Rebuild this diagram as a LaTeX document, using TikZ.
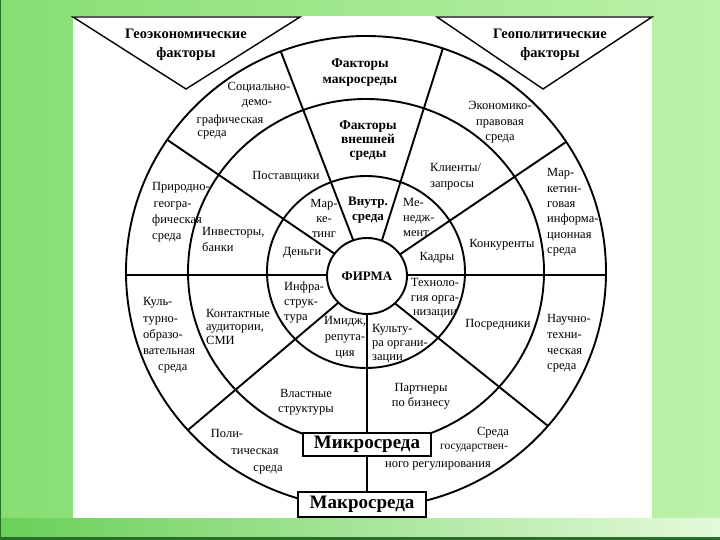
\documentclass[tikz,border=0pt]{standalone}
\usepackage{fontspec}
\setmainfont{Liberation Serif}
\usetikzlibrary{calc,shapes.geometric}
\definecolor{bgL}{RGB}{135,222,115}
\definecolor{bgR}{RGB}{188,242,170}
\definecolor{bandL}{RGB}{105,208,88}
\definecolor{bandR}{RGB}{228,250,218}
\definecolor{edge}{RGB}{40,110,40}
\begin{document}
\begin{tikzpicture}[x=1pt,y=-1pt,
  ring/.style={line width=1.9pt},
  spoke/.style={line width=1.9pt},
  tri/.style={line width=1.4pt},
  lbl/.style={inner sep=0pt,font=\fontsize{12.5}{15.5}\selectfont,align=center},
  lbll/.style={lbl,align=left,anchor=west},
  blbl/.style={inner sep=0pt,font=\bfseries\fontsize{13.5}{15}\selectfont,align=center},
  ttl/.style={inner sep=0pt,font=\bfseries\fontsize{14.5}{18.5}\selectfont,align=center},
  envbox/.style={draw,line width=1.9pt,fill=white,inner sep=0pt,font=\bfseries\fontsize{19}{22}\selectfont},
]
\useasboundingbox (0,0) rectangle (720,540);
% background frame
\shade[left color=bgL,right color=bgR] (0,0) rectangle (720,540);
\shade[left color=bandL,right color=bandR] (0,518) rectangle (720,537);
\fill[edge] (0,537) rectangle (720,540);
\fill[edge] (0,0) rectangle (1,540);
\fill[white] (73,16) rectangle (652,518);

% spoke end points
\coordinate (s1i) at (352,237); \coordinate (s1o) at (281,52);
\coordinate (s2i) at (383,237); \coordinate (s2o) at (443,48);
\coordinate (s3i) at (332,252); \coordinate (s3o) at (169,141);
\coordinate (s4i) at (402,253); \coordinate (s4o) at (566,142);
\coordinate (s5i) at (338,303); \coordinate (s5o) at (188,430);
\coordinate (s6i) at (397,305); \coordinate (s6o) at (548,426);
\coordinate (hli) at (327,275); \coordinate (hlo) at (126,275);
\coordinate (hri) at (407,275); \coordinate (hro) at (606,275);
\coordinate (vi) at (367,314);  \coordinate (vo) at (367,508);

\begin{scope}
  \clip (366,272) ellipse [x radius=240pt,y radius=236pt];
  \foreach \s in {s1,s2,s3,s4,s5,s6,hl,hr,v}{
    \draw[spoke] ($(\s o)!1.15!(\s i)$) -- ($(\s i)!1.06!(\s o)$);
  }
\end{scope}

% rings
\draw[ring] (366,272) ellipse [x radius=240pt,y radius=236pt];
\draw[ring] (366,272) ellipse [x radius=178pt,y radius=173pt];
\draw[ring] (366,272) ellipse [x radius=99pt,y radius=96pt];
\node[draw,ring,fill=white,ellipse,inner sep=0pt,minimum width=80pt,minimum height=76pt,
      font=\bfseries\fontsize{13}{15}\selectfont] (firm) at (367,276) {ФИРМА};

% triangles
\draw[tri] (73,17) -- (300,17) -- (186,89) -- cycle;
\draw[tri] (437,17) -- (652,17) -- (543,89) -- cycle;
\node[ttl] (geoec) at (186,45) {Геоэкономические\\факторы};
\node[ttl] (geopol) at (550,45) {Геополитические\\факторы};

% bold sector titles
\node[blbl,font=\bfseries\fontsize{13.5}{16}\selectfont] (fmacro) at (360,73) {Факторы\\макросреды};
\node[blbl,font=\bfseries\fontsize{13.5}{14}\selectfont] (fext) at (368,141) {Факторы\\внешней\\среды};
\node[blbl,font=\bfseries\fontsize{13}{15}\selectfont] (fint) at (368,210) {Внутр.\\среда};

% outer ring texts
\node[lbl] (soc1) at (259,88) {Социально-};
\node[lbl] (soc2) at (257,104) {демо-};
\node[lbl] (soc3) at (230,120) {графическая};
\node[lbl] (soc4) at (212,135) {среда};
\node[lbl] (econ) at (500,122.5) {Экономико-\\правовая\\среда};
\node[lbll,font=\fontsize{12.5}{16.3}\selectfont] (nat) at (152,212.5) {Природно-\\\hspace*{1.5pt}геогра-\\фическая\\среда};
\node[lbll,font=\fontsize{12.5}{15.4}\selectfont] (mkt) at (547,212.5) {Мар-\\кетин-\\говая\\информа-\\ционная\\среда};
\node[lbll,font=\fontsize{12.5}{16.2}\selectfont] (cult) at (143,335.5) {Куль-\\турно-\\образо-\\вательная\\\hspace*{15pt}среда};
\node[lbll,font=\fontsize{12.5}{15.7}\selectfont] (sci) at (547,343.5) {Научно-\\техни-\\ческая\\среда};
\node[lbl] (pol1) at (227,433) {Поли-};
\node[lbl] (pol2) at (255,452) {тическая};
\node[lbl] (pol3) at (268,470) {среда};
\node[lbl] (gov1) at (493,433) {Среда};
\node[lbl,font=\fontsize{11.5}{14}\selectfont] (gov2) at (474,448) {государствен-};
\node[lbl] (gov3) at (438,466) {ного регулирования};

% middle ring texts
\node[lbl] (supp) at (286,177) {Поставщики};
\node[lbll] (inv) at (202,239.5) {Инвесторы,\\банки};
\node[lbll] (cli) at (430,176.5) {Клиенты/\\запросы};
\node[lbl] (comp) at (502,245) {Конкуренты};
\node[lbll,font=\fontsize{12.5}{13.5}\selectfont] (cont) at (206,326.5) {Контактные\\аудитории,\\СМИ};
\node[lbl] (inter) at (498,325) {Посредники};
\node[lbl,font=\fontsize{12.5}{15}\selectfont] (auth) at (306,402.5) {Властные\\структуры};
\node[lbl,font=\fontsize{12.5}{15}\selectfont] (part) at (421,396.5) {Партнеры\\по бизнесу};

% inner ring texts
\node[lbl,font=\fontsize{12.5}{15}\selectfont] (mark) at (324,218) {Мар-\\ке-\\тинг};
\node[lbl] (money) at (302,253) {Деньги};
\node[lbll,font=\fontsize{12.5}{15}\selectfont] (mgmt) at (403,217.5) {Ме-\\недж-\\мент};
\node[lbl] (staff) at (437,258) {Кадры};
\node[lbll,font=\fontsize{12.5}{15}\selectfont] (infra) at (284,303) {Инфра-\\струк-\\тура};
\node[lbl,font=\fontsize{12.5}{16}\selectfont] (image) at (345,338) {Имидж,\\репута-\\ция};
\node[lbll,font=\fontsize{12.5}{14}\selectfont] (culture) at (372,344) {Культу-\\ра органи-\\зации};
\node[lbl,font=\fontsize{12.5}{14.5}\selectfont] (tech) at (435,298.5) {Техноло-\\гия орга-\\низации};

% environment boxes
\node[envbox,minimum width=128pt,minimum height=23pt] (micro) at (367,444.5) {Микросреда};
\node[envbox,minimum width=128pt,minimum height=25pt] (macro) at (362,504.5) {Макросреда};
\draw[spoke] (micro.south) -- (micro.south |- macro.north);
\end{tikzpicture}
\end{document}
